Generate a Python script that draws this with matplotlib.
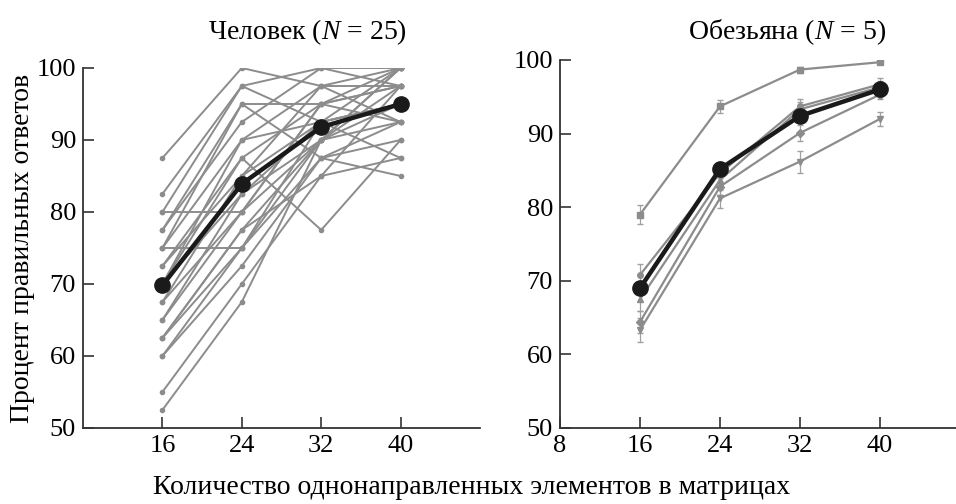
import matplotlib
matplotlib.use("Agg")
import matplotlib.pyplot as plt
import numpy as np

plt.rcParams["font.family"] = ["Liberation Serif", "DejaVu Serif"]
plt.rcParams["mathtext.fontset"] = "custom"
plt.rcParams["mathtext.rm"] = "Liberation Serif"
plt.rcParams["mathtext.it"] = "Liberation Serif:italic"

# === Data ===
set_sizes = [16, 24, 32, 40]

# percent correct per human subject at 16, 24, 32, 40 elements
human_scores = [
    [87.5, 100.0, 97.5, 97.5],
    [82.5, 97.5, 100.0, 100.0],
    [80.0, 80.0, 95.0, 97.5],
    [80.0, 97.5, 92.5, 95.0],
    [77.5, 95.0, 95.0, 100.0],
    [77.5, 92.5, 100.0, 97.5],
    [75.0, 75.0, 90.0, 92.5],
    [75.0, 90.0, 97.5, 100.0],
    [75.0, 95.0, 87.5, 90.0],
    [72.5, 87.5, 95.0, 97.5],
    [72.5, 85.0, 92.5, 95.0],
    [70.0, 90.0, 92.5, 100.0],
    [70.0, 87.5, 77.5, 90.0],
    [70.0, 82.5, 90.0, 97.5],
    [67.5, 85.0, 97.5, 92.5],
    [67.5, 80.0, 90.0, 95.0],
    [65.0, 82.5, 92.5, 87.5],
    [65.0, 80.0, 95.0, 92.5],
    [62.5, 77.5, 90.0, 100.0],
    [62.5, 75.0, 87.5, 85.0],
    [62.5, 77.5, 85.0, 97.5],
    [60.0, 72.5, 87.5, 92.5],
    [60.0, 75.0, 92.5, 95.0],
    [55.0, 70.0, 85.0, 87.5],
    [52.5, 67.5, 90.0, 100.0],
]

monkey_scores = [
    [79.0, 93.7, 98.7, 99.7],
    [70.8, 84.6, 93.7, 96.7],
    [67.5, 83.7, 93.3, 96.3],
    [64.4, 82.8, 90.1, 95.3],
    [63.3, 81.2, 86.2, 92.0],
]
monkey_errors = [
    [1.3, 0.9, 0.4, 0.3],
    [1.5, 1.6, 1.0, 0.8],
    [1.6, 1.3, 1.0, 0.8],
    [1.5, 1.2, 1.1, 0.6],
    [1.6, 1.3, 1.5, 1.0],
]
monkey_markers = ["s", "o", "^", "D", "v"]

human_mean = np.mean(human_scores, axis=0)
monkey_mean = np.mean(monkey_scores, axis=0)

grey = "#8c8c8c"
spine_col = "#333333"
fs = 19
fs_lab = 20

fig = plt.figure(figsize=(9.56, 5.04), dpi=100)
ax1 = fig.add_axes([83 / 956, 76 / 504, 397 / 956, 360 / 504])
ax2 = fig.add_axes([560 / 956, 76 / 504, 400 / 956, 368 / 504])

# === Human panel ===
for row in human_scores:
    ax1.plot(set_sizes, row, color=grey, lw=1.4, marker="o", ms=3,
             mfc=grey, mec=grey)
ax1.plot(set_sizes, human_mean, color="#1a1a1a", lw=3.2, marker="o", ms=11,
         zorder=5)

# === Monkey panel ===
for row, err, mk in zip(monkey_scores, monkey_errors, monkey_markers):
    ax2.errorbar(set_sizes, row, yerr=err, color=grey, lw=1.6, marker=mk,
                 ms=4, capsize=2, elinewidth=0.9, ecolor="#a0a0a0")
ax2.plot(set_sizes, monkey_mean, color="#1a1a1a", lw=3.2, marker="o", ms=11,
         zorder=5)

for ax, xt in [(ax1, [16, 24, 32, 40]), (ax2, [8, 16, 24, 32, 40])]:
    ax.set_xlim(8, 48)
    ax.set_ylim(50, 100)
    ax.set_xticks(xt)
    ax.set_yticks([50, 60, 70, 80, 90, 100])
    for s in ["top", "right"]:
        ax.spines[s].set_visible(False)
    for s in ["left", "bottom"]:
        ax.spines[s].set_color(spine_col)
        ax.spines[s].set_linewidth(1.3)
    ax.tick_params(direction="in", length=8, width=1.2, color=spine_col,
                   labelsize=fs, pad=5)

ax1.set_ylabel("Процент правильных ответов", fontsize=fs_lab, labelpad=1)

fig.text(307 / 956, 1 - 32 / 504, "Человек ($N$ = 25)", ha="center",
         va="center", fontsize=fs_lab)
fig.text(787 / 956, 1 - 32 / 504, "Обезьяна ($N$ = 5)", ha="center",
         va="center", fontsize=fs_lab)
fig.text(472 / 956, 1 - 487 / 504,
         "Количество однонаправленных элементов в матрицах",
         ha="center", va="center", fontsize=fs_lab)

fig.savefig("out.png", dpi=100)
